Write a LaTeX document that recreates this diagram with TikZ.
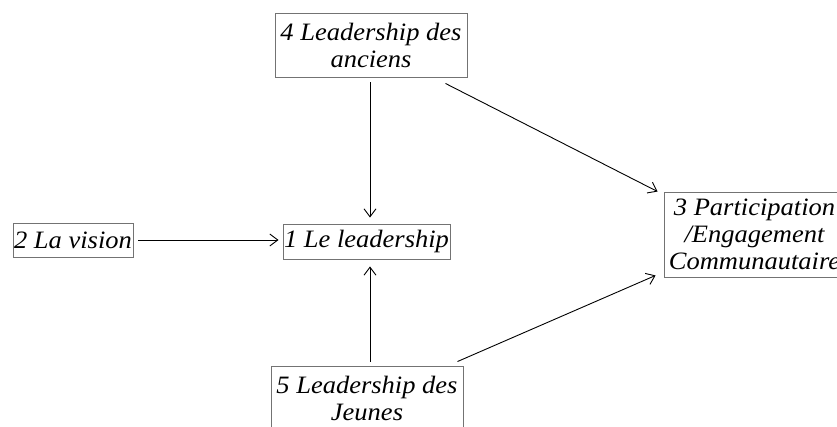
\documentclass[tikz,border=0pt]{standalone}
\usepackage{fontspec}
\setmainfont{Liberation Serif}[FakeStretch=1.06]
\usetikzlibrary{arrows.meta,calc}
\begin{document}
\begin{tikzpicture}[x=1pt,y=1pt,
  box/.style={draw=black!55, line width=0.9pt, rectangle, inner sep=0pt, align=center,
    font=\fontsize{25}{27}\selectfont\itshape},
  conn/.style={draw=black, line width=0.9pt, -{Straight Barb[length=8pt,width=12pt,line width=0.9pt]}}]
\useasboundingbox (0,0) rectangle (837,426);
\begin{scope}
\clip (0,0) rectangle (837,426);
\node[box, minimum width=192pt, minimum height=64pt] (b4) at (371,381) {4 Leadership des\\anciens};
\node[box, minimum width=120pt, minimum height=34pt] (b2) at (73,186) {2 La vision};
\node[box, minimum width=167pt, minimum height=35pt] (b1) at (366.5,184.5) {1 Le leadership};
\node[box, minimum width=181pt, minimum height=85pt] (b3) at (754.5,191.5) {3 Participation\\/Engagement\\Communautaire};
\node[box, minimum width=192pt, minimum height=64pt] (b5) at (367,28) {5 Leadership des\\Jeunes};
\end{scope}
\coordinate (s4) at ($(b4.south)+(-1,0)$);
\coordinate (t41) at (s4 |- b1.north);
\coordinate (s5) at ($(b5.north)+(3,0)$);
\coordinate (t51) at (s5 |- b1.south);
\draw[conn, shorten <=5pt, shorten >=4pt] (b2.east) -- (b2.east -| b1.west);
\draw[conn, shorten <=5pt, shorten >=6pt] (s4) -- (t41);
\draw[conn, shorten <=4pt, shorten >=7pt] (s5) -- (t51);
\draw[conn] ($(b4.south east)+(-22,-6)$) -- ($(b3.north west)+(-6,0)$);
\draw[conn] ($(b5.north east)+(-6,4)$) -- ($(b3.south west)+(-8,2)$);
\end{tikzpicture}
\end{document}
